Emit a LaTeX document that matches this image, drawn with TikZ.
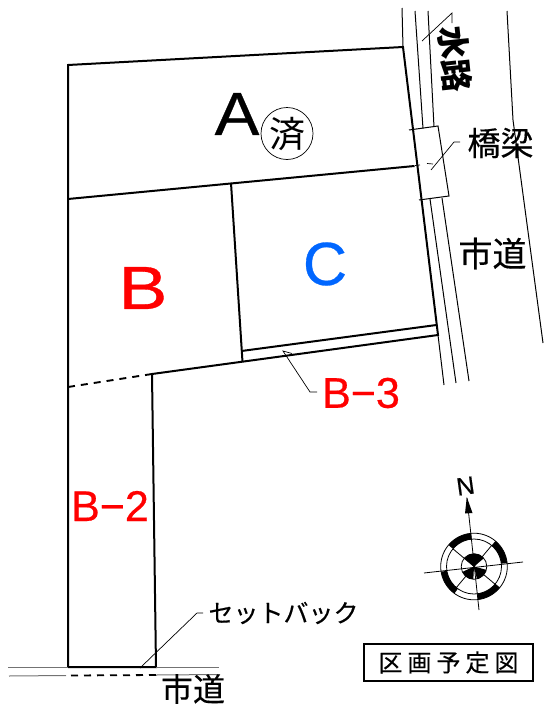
\documentclass[tikz,border=0pt]{standalone}
\usepackage{fontspec}
\setmainfont{Liberation Sans}[FakeBold=0.5]
\newfontfamily\cjk{Noto Sans CJK JP}[FakeBold=0.35]
\newfontfamily\cjkplain{Noto Sans CJK JP}
\definecolor{lotblue}{RGB}{0,102,255}
\tikzset{
  lot/.style={line width=2pt,line join=miter},
  road/.style={line width=1pt},
  leader/.style={line width=0.7pt},
  graystreet/.style={line width=1pt,draw=black!55},
  lab/.style={inner sep=0pt,font=\cjk},
  lotname/.style={inner sep=0pt,red}
}
\begin{document}
\begin{tikzpicture}[x=1pt,y=-1pt]
\useasboundingbox (0,0) rectangle (544,704);
% lot corners
\coordinate (tl) at (68,65);
\coordinate (tr) at (403,47);
\coordinate (midl) at (68,199);
\coordinate (midr) at (414.5,166);
\coordinate (cut) at (231,183);
\coordinate (br) at (438,335);
\coordinate (innerr) at (436.5,325);
\coordinate (innerl) at (241.5,351);
\coordinate (cutb) at (242.5,362);
\coordinate (notch) at (152,374);
\coordinate (dashl) at (68,387);
\coordinate (bl) at (68,667);
\coordinate (nb) at (156,667);
\draw[lot] (bl) -- (tl) -- (tr) -- (br) -- (notch) -- (nb) -- (bl);
\draw[lot] (midl) -- (midr);
\draw[lot] (cut) -- (cutb);
\draw[lot] (innerl) -- (innerr);
\draw[dash pattern=on 7pt off 6pt,line width=1.9pt] (notch) -- (dashl);
% waterway and road lines
\coordinate (w1a) at (402,8);
\coordinate (w1b) at (444,385);
\coordinate (w2a) at (415,11);
\coordinate (w2b) at (423,128.5);
\coordinate (w2c) at (430,199);
\coordinate (w2d) at (456,383);
\coordinate (w3a) at (428,11);
\coordinate (w3b) at (434,127);
\coordinate (w3c) at (442,198);
\coordinate (w3d) at (469,381);
\coordinate (ra) at (507,11);
\coordinate (rm) at (513,120);
\coordinate (rb) at (543,343);
\draw[road] (w1a) -- (tr);
\draw[road] (br) -- (w1b);
\draw[road] (w2a) -- (w2b);
\draw[road] (w2c) -- (w2d);
\draw[road] (w3a) -- (w3b);
\draw[road] (w3c) -- (w3d);
\draw[road] (ra) -- (rm) -- (rb);
% bridge
\coordinate (b1) at (409,130);
\coordinate (b2) at (438,126);
\coordinate (b3) at (449,196);
\coordinate (b4) at (419,200);
\draw[road] (b1) -- (b2) -- (b3) -- (b4);
\coordinate (bd1) at (415,165.5);
\coordinate (bd2) at (420,165);
\coordinate (bd3) at (427,163.5);
\coordinate (bd4) at (433,164);
\draw[leader] (bd1) -- (bd2) (bd3) -- (bd4);
% leaders
\coordinate (l1a) at (422,41);
\coordinate (l1b) at (452,13);
\coordinate (l1c) at (452,23);
\draw[leader] (l1a) -- (l1b) -- (l1c);
\coordinate (l2a) at (431,170);
\coordinate (l2b) at (454,142);
\coordinate (l2c) at (460,142);
\draw[leader] (l2a) -- (l2b) -- (l2c);
\coordinate (l3a) at (283,351);
\coordinate (l3b) at (310,392);
\coordinate (l3c) at (317,392);
\coordinate (l3d) at (292,353.5);
\draw[leader] (l3d) -- (l3a) -- (l3b) -- (l3c);
\coordinate (l4a) at (140,668);
\coordinate (l4b) at (197,613);
\coordinate (l4c) at (203,613);
\draw[leader] (l4a) -- (l4b) -- (l4c);
% street at bottom
\coordinate (s1a) at (8,667);
\coordinate (s1b) at (219,667);
\coordinate (s2a) at (9,676);
\coordinate (s2b) at (66,675.5);
\coordinate (s2c) at (71,675.5);
\coordinate (s2d) at (156,675);
\coordinate (s2e) at (220,674.5);
\draw[graystreet] (s1a) -- (bl) (nb) -- (s1b);
\draw[graystreet] (s2a) -- (s2b) (s2d) -- (s2e);
\draw[line width=1.8pt,dash pattern=on 7pt off 6pt] (s2c) -- (s2d);
% compass (math orientation inside the scope)
\begin{scope}[shift={(474,566.5)},yscale=-1]
  \foreach \s/\e in {6/50,95/140,189/234,277/321}{
    \fill (\s:33.3) arc[start angle=\s,end angle=\e,radius=33.3] -- (\e:27.5) arc[start angle=\e,end angle=\s,radius=27.5] -- cycle;
  }
  \draw[line width=0.8pt] (0,0) circle[radius=33.3];
  \draw[line width=0.8pt] (0,0) circle[radius=27.5];
  \foreach \s/\e in {40/140,205/267,283/345}{
    \fill (0,0) -- (\s:12.8) arc[start angle=\s,end angle=\e,radius=12.8] -- cycle;
  }
  \draw[line width=0.8pt] (0,0) circle[radius=12.8];
  \foreach \a in {50,140,230,320}{\draw[line width=0.8pt] (0,0) -- (\a:27.5);}
\end{scope}
\coordinate (cn) at (467,498);
\coordinate (cs) at (479,610);
\coordinate (cw) at (424,573);
\coordinate (ce) at (523,562);
\draw[line width=0.8pt] (cn) -- (cs);
\draw[line width=0.8pt] (cw) -- (ce);
\fill (466.8,497) -- (472.5,513) -- (465,513.5) -- cycle;
\node[inner sep=0pt,font=\fontsize{25}{25}\selectfont,rotate=8] (north) at (465.5,486) {N};
% labels
\node[inner sep=0pt,xscale=1.1,font=\fontsize{61}{61}\selectfont] (la) at (237,114) {A};
\node[draw,circle,line width=0.7pt,minimum size=52pt,inner sep=0pt] (zumi) at (287,133.5) {\cjkplain\fontsize{36}{36}\selectfont 済};
\node[lotname,xscale=1.2,font=\fontsize{61}{61}\selectfont] (lb) at (143,288) {B};
\node[lotname,text=lotblue,font=\fontsize{61}{61}\selectfont] (lc) at (325,264) {C};
\node[lotname,font=\fontsize{43}{43}\selectfont] (lb2) at (110,506) {B−2};
\node[lotname,font=\fontsize{43}{43}\selectfont] (lb3) at (361,393) {B−3};
\node[lab,font=\cjkplain\bfseries\fontsize{33}{33}\selectfont,rotate=-84] (water) at (455,59.5) {水路};
\node[lab,font=\cjk\fontsize{33}{33}\selectfont] (bridge) at (500.5,143) {橋梁};
\node[lab,font=\cjk\fontsize{34}{34}\selectfont] (road1) at (492.5,253.5) {市道};
\node[lab,font=\cjk\fontsize{32}{32}\selectfont] (road2) at (193,689) {市道};
\node[lab,font=\cjk\fontsize{25}{25}\selectfont] (setback) at (283.5,613) {セットバック};
\node[draw,line width=1.2pt,minimum width=169pt,minimum height=37pt,inner sep=0pt,font=\cjk\fontsize{24}{24}\selectfont] (title) at (448.5,662.5) {区\hspace{5pt}画\hspace{5pt}予\hspace{5pt}定\hspace{5pt}図};
\end{tikzpicture}
\end{document}
